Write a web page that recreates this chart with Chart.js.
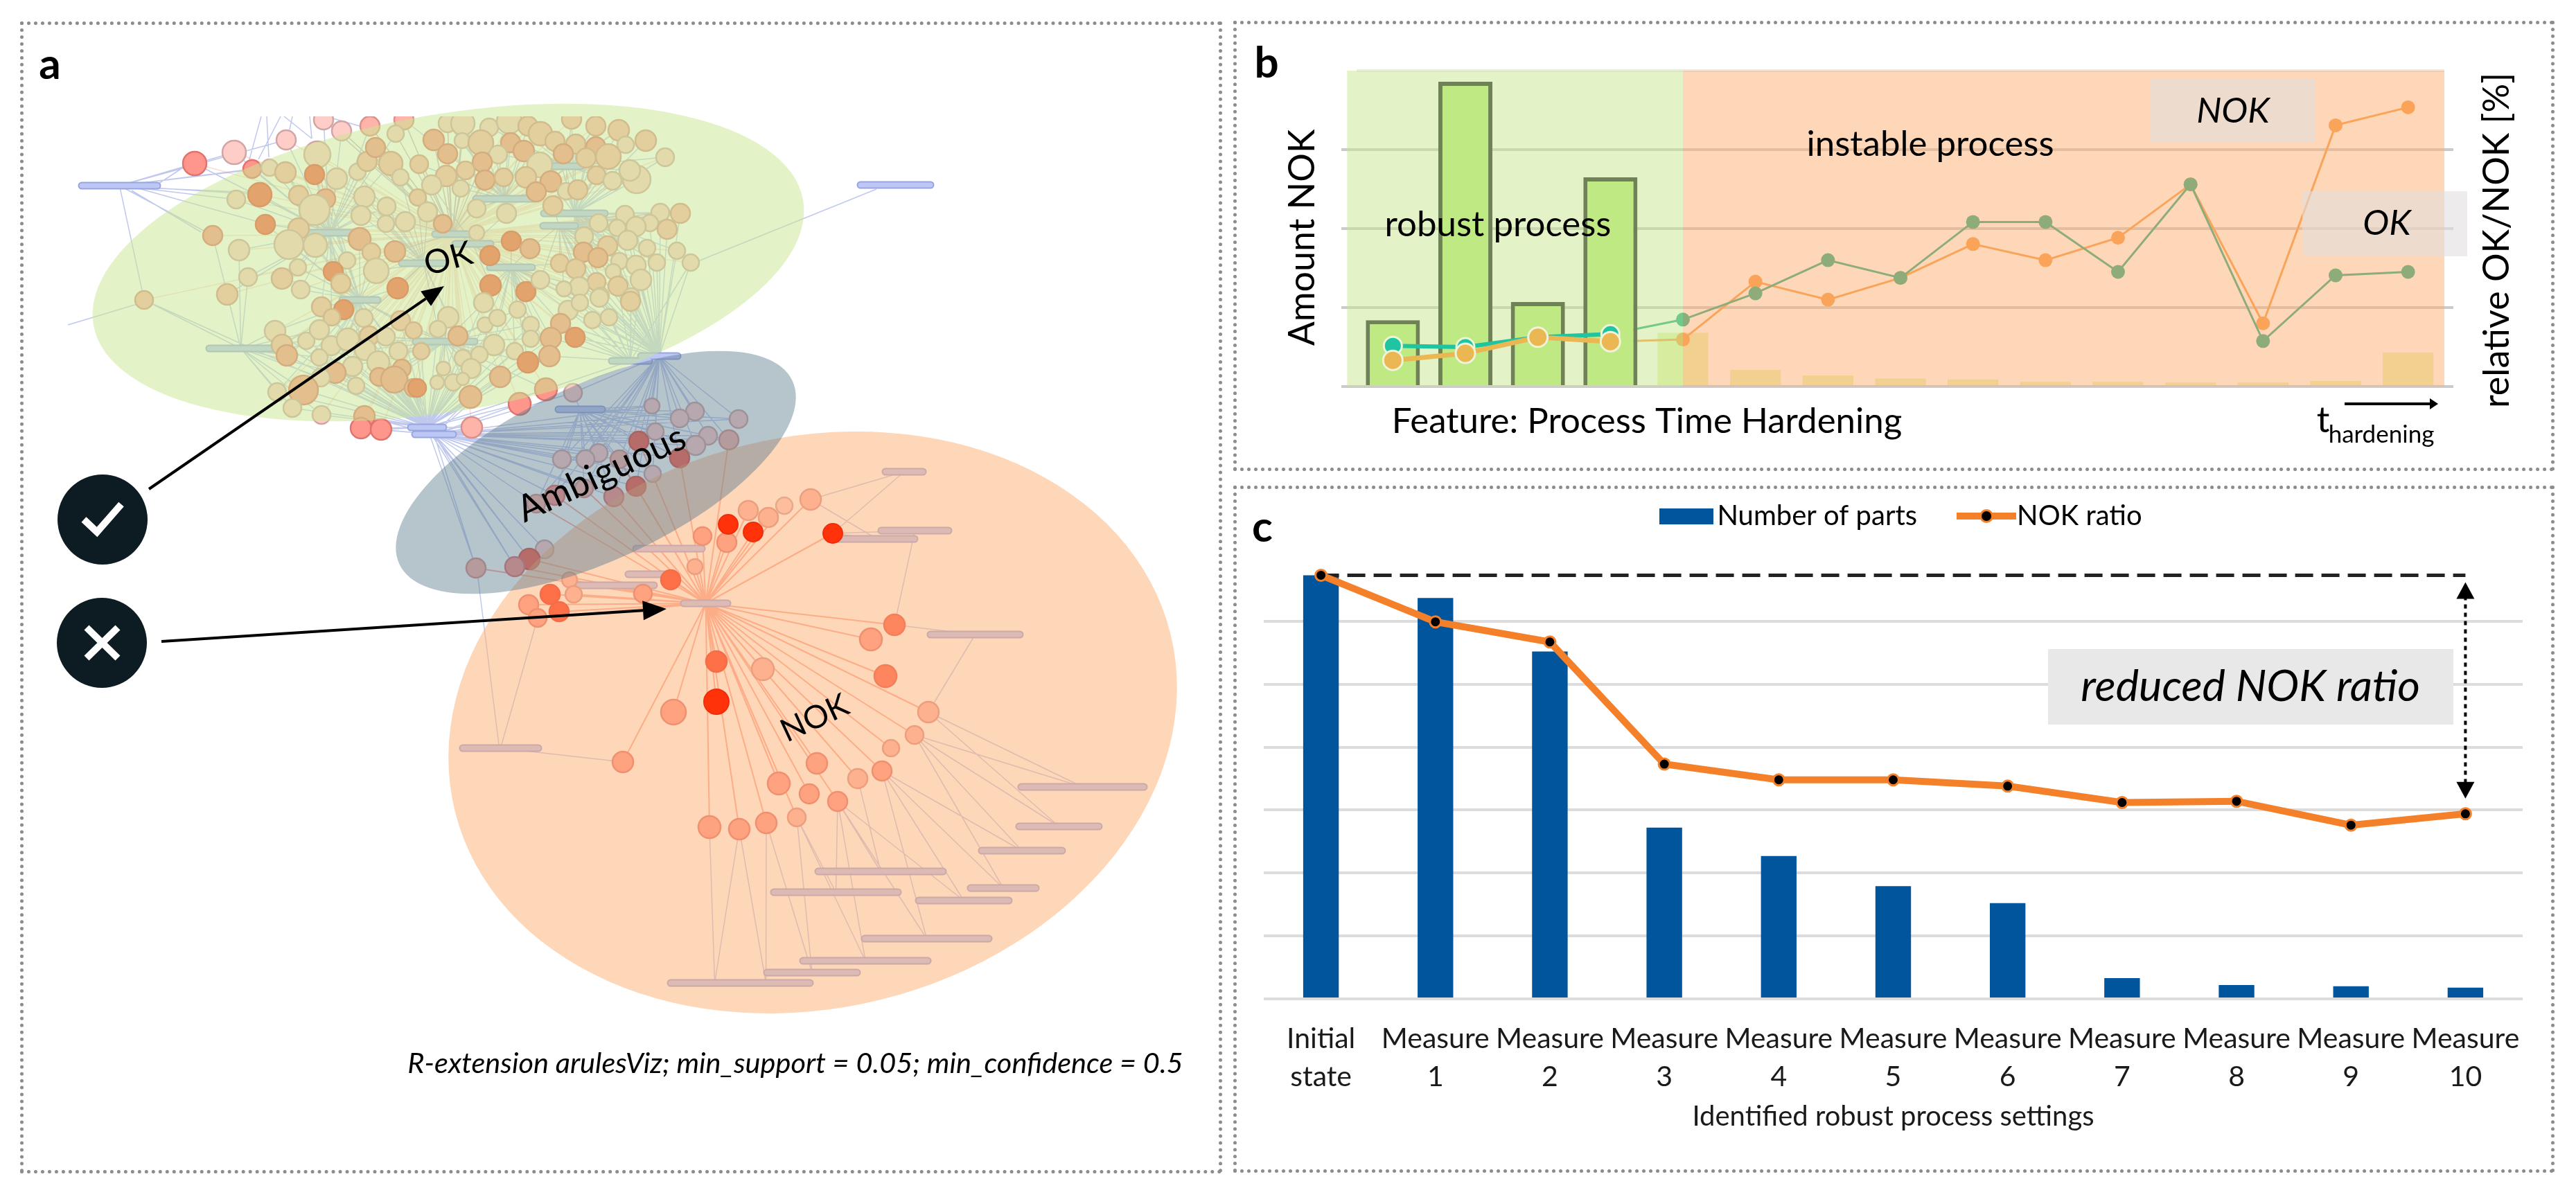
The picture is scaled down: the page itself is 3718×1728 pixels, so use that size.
<!DOCTYPE html>
<html>
<head>
<meta charset="utf-8">
<title>Process analysis</title>
<script src="https://cdn.jsdelivr.net/npm/chart.js@4/dist/chart.umd.min.js"></script>
<style>
  body { margin: 0; background: #fff; width: 3718px; height: 1728px; overflow: hidden; position: relative; font-family: Lato, sans-serif; }
  canvas { position: absolute; }
  .panel { position: absolute; box-sizing: border-box; border: 5px dotted #8c8c8c; }
  .letter { position: absolute; font: bold 62px Lato, sans-serif; line-height: 1; color: #000; transform: translate(-50%, -50%); }
</style>
</head>
<body>
<div class="panel" style="left:29px;top:31px;width:1735px;height:1663px"></div>
<div class="panel" style="left:1780px;top:30px;width:1907px;height:650px"></div>
<div class="panel" style="left:1780px;top:701px;width:1907px;height:992px"></div>
<div class="letter" style="left:72px;top:90px">a</div>
<div class="letter" style="left:1828px;top:88px">b</div>
<div class="letter" style="left:1822px;top:758px">c</div>
<canvas id="chartA" style="left:40px;top:40px" width="1715" height="1645"></canvas>
<canvas id="chartB" style="left:1790px;top:40px" width="1890" height="630"></canvas>
<canvas id="chartC" style="left:1800px;top:649px" width="1902" height="1036"></canvas>
<script>
// panel a: rule graph, [x, y, size, lift] (layout units)
const okNodes = [
  [338,220,17,0],[281,236,17,2],[413,202,14,0],[467,173,14,0],[493,189,14,0],[534,182,14,1],[583,173,14,1],[364,244,13,2],
  [389,242,12,0],[412,249,15,1],[458,223,19,0],[454,252,14,3],[486,258,15,0],[516,248,12,0],[530,233,14,1],[542,213,14,2],
  [564,236,17,1],[578,256,12,0],[571,193,12,0],[341,288,13,0],[375,281,17,3],[431,282,14,1],[470,287,14,2],[526,284,15,0],
  [558,298,13,0],[521,311,14,0],[557,323,12,0],[585,320,14,0],[383,324,14,3],[307,340,14,2],[454,303,22,0],[431,330,15,1],
  [417,353,21,0],[455,354,17,0],[519,345,16,2],[345,361,15,0],[536,364,13,1],[570,363,15,2],[501,376,12,0],[430,386,12,0],
  [481,392,14,3],[543,391,18,0],[358,400,13,0],[407,402,15,1],[492,409,14,1],[434,418,13,0],[574,416,15,3],[328,425,15,1],
  [208,433,13,1],
  [646,178,13,0],[668,178,17,0],[706,184,13,0],[735,175,18,0],[762,182,14,1],[780,193,17,1],[825,172,14,1],[860,182,14,1],
  [893,188,15,1],[932,203,15,1],[960,227,13,0],[626,202,15,2],[667,203,11,0],[694,206,18,1],[737,206,14,2],[756,218,15,2],
  [801,204,14,1],[831,208,14,1],[860,212,14,2],[903,209,12,0],[878,226,18,1],[846,228,14,1],[813,222,14,2],[646,222,14,2],
  [719,223,13,0],[696,234,14,2],[779,238,18,0],[605,237,13,1],[644,254,15,1],[672,246,13,1],[700,260,14,2],[727,256,13,1],
  [759,256,15,1],[795,262,15,2],[774,277,14,2],[817,276,12,0],[834,274,14,1],[861,253,13,1],[919,259,20,0],[909,246,15,0],
  [884,261,13,0],[623,267,14,0],[665,272,12,0],[603,285,12,1],[617,306,14,0],[688,301,13,0],[731,308,14,0],[798,297,14,1],
  [639,323,13,2],[688,336,11,0],[738,348,14,3],[765,359,14,2],[707,369,14,3],[708,412,15,3],[759,421,14,3],[780,404,13,0],
  [902,310,13,0],[953,307,13,0],[982,308,14,1],[938,322,12,0],[963,331,14,1],[918,327,14,0],[891,329,12,0],[864,322,13,0],
  [843,341,13,0],[906,347,14,0],[877,355,14,1],[934,358,12,0],[977,362,12,0],[842,364,14,2],[863,372,14,2],[894,377,12,0],
  [918,383,14,0],[948,379,12,0],[997,379,12,0],[808,380,13,1],[831,388,14,1],[885,392,11,0],[925,404,15,0],[861,407,13,1],
  [892,413,14,1],[836,414,14,0],[814,417,11,0],[867,427,12,0],[911,428,12,0],
  [464,443,14,1],[496,447,14,3],[525,459,13,0],[479,458,12,1],[397,478,15,0],[442,492,12,0],[461,476,14,0],[407,498,15,1],
  [414,513,15,2],[478,499,14,0],[502,490,16,0],[533,485,14,1],[557,486,13,0],[578,463,14,1],[597,477,12,1],[461,516,12,0],
  [527,505,15,0],[575,507,13,0],[509,529,14,0],[546,523,16,0],[484,538,15,2],[463,545,13,0],[438,563,21,2],[400,566,13,0],
  [514,557,12,0],[580,532,13,2],[547,544,13,2],[569,548,19,2],[597,560,13,2],[422,589,13,0],[464,599,13,0],[526,601,15,2],
  [521,618,15,2],[550,620,15,2],
  [698,437,14,0],[747,447,12,0],[820,448,14,0],[837,437,12,0],[865,430,13,0],[910,435,14,1],[855,462,12,0],[879,458,12,0],
  [647,458,15,0],[700,469,11,0],[718,459,12,0],[766,469,12,0],[809,467,14,2],[632,475,12,0],[661,485,14,2],[766,489,12,0],
  [795,488,15,2],[830,487,14,3],[713,498,15,0],[608,507,12,1],[743,507,12,0],[692,512,12,0],[668,517,12,0],[680,532,14,0],
  [762,523,15,3],[793,514,15,2],[640,532,10,0],[631,552,10,0],[654,552,12,0],[668,547,9,0],[722,544,15,2],[602,560,13,3],
  [679,573,16,2],[788,562,16,2],[750,583,16,2],[681,617,15,1]
];
const ambNodes = [
  [827,567,13,0],[941,586,11,0],[1003,594,13,0],[981,604,13,0],[1066,605,13,0],[946,623,12,0],[922,637,14,3],[1022,629,13,0],
  [1004,643,14,0],[1052,635,14,1],[981,661,14,3],[942,684,12,0],[918,702,14,3],[886,717,14,2],[864,654,13,0],[845,663,13,0],
  [811,663,13,0],[894,663,13,1],[843,705,13,1],[801,715,14,2],[774,727,13,1],[786,793,13,0],[764,807,15,3],[743,818,14,2],
  [687,820,14,1]
];
const nokNodes = [
  [1170,721,15,1],[1132,730,12,0],[1080,737,14,1],[1109,747,14,1],[1014,774,13,2],[1049,783,14,2],[1003,818,11,1],[968,837,14,4],
  [822,837,11,1],[928,857,13,2],[794,858,14,4],[828,858,12,1],[763,873,14,2],[807,883,14,4],[776,892,13,2],[1034,955,15,4],
  [1101,966,16,1],[1291,902,15,3],[1257,923,16,2],[1278,976,16,3],[1340,1028,15,1],[1320,1061,13,1],[1286,1080,12,1],
  [1273,1113,14,2],[1238,1124,14,1],[1179,1102,15,2],[1124,1131,16,2],[1168,1146,14,2],[1209,1157,14,2],[1150,1180,13,1],
  [1106,1188,15,2],[1067,1197,15,2],[1024,1194,16,2],[899,1100,15,2],[972,1028,18,2]
];
const hotNodes = [[1051,757,14,5],[1087,768,14,5],[1202,770,14,5],[1034,1013,18,5]];

// rule boxes: [from, to, y]
const okHubs = [
  [118,227,268],[447,505,336],[798,838,240],[687,770,287],[785,873,308],[784,830,326],[628,677,338],[657,708,352],
  [707,768,386],[580,643,380],[494,545,433],[600,685,493],[302,393,503],[883,937,521],[925,978,514],[593,640,617],[599,654,627]
];
const ambHubs = [[806,869,591],[1242,1343,267]];
const nokHubs = [
  [668,777,1080],[1474,1651,1136],[1471,1586,1193],[1417,1533,1228],[1181,1361,1258],[1401,1495,1282],[1117,1296,1288],
  [1326,1456,1300],[1248,1427,1355],[1159,1339,1387],[1107,1237,1404],[968,1095,1419],[1042,1169,1419],[1278,1332,681],
  [1272,1369,766],[1211,1320,778],[1343,1472,916],[987,1050,871],[918,1013,792],[907,959,829],[835,944,845]
];
// loose lines that do not end on a node of the lists above
const looseEdges = [
  [377,168,360,230],[385,168,388,227],[405,168,373,230],[410,168,450,200],[422,168,418,187],[447,168,450,200],[470,168,530,185],
  [229,265,267,240],[229,272,370,278],[200,272,372,320],[190,275,290,335],[1265,273,1005,378],[98,469,208,436],[720,1075,690,835]
];

// panel b
const hardeningSteps = ['1','2','3','4','5','6','7','8','9','10','11','12','13','14','15'];
const amountNok = [0.84,3.86,1.07,2.65,0.68,0.21,0.14,0.10,0.09,0.06,0.06,0.05,0.05,0.07,0.43];
const okShare = [12.9,12.5,15.6,16.6,21.2,29.5,40.0,34.4,52.1,52.1,36.3,64.0,14.4,35.2,36.3];
const nokShare = [8.3,10.5,15.6,14.2,14.9,33.2,27.5,34.4,45.1,40.0,47.1,64.0,20.0,82.7,88.4];
const robustCount = 4;

// panel c
const measures = [['Initial','state'],['Measure','1'],['Measure','2'],['Measure','3'],['Measure','4'],['Measure','5'],
  ['Measure','6'],['Measure','7'],['Measure','8'],['Measure','9'],['Measure','10']];
const numberOfParts = [6.73,6.37,5.52,2.72,2.27,1.79,1.52,0.33,0.22,0.20,0.18];
const nokRatio = [6.73,5.99,5.67,3.73,3.48,3.48,3.38,3.12,3.14,2.76,2.94];

const LIFT_FILL = ['rgb(255,205,200)','rgb(255,180,170)','rgb(255,150,140)','rgb(255,95,75)','rgb(255,50,30)','rgb(255,50,10)'];
const LIFT_EDGE = ['rgb(210,165,165)','rgb(218,145,140)','rgb(225,115,110)','rgb(230,80,65)','rgb(235,45,30)','rgb(240,45,10)'];

Chart.defaults.font.family = 'Lato, sans-serif';
Chart.defaults.color = '#000';
Chart.defaults.animation = false;

function toBubbles(list) {
  return list.map(n => ({ x: n[0], y: n[1], r: n[2], lift: n[3] }));
}

// every pair [x1,y1,x2,y2] becomes a separate stroke, the null point breaks the line
function toSegments(pairs) {
  const out = [];
  pairs.forEach(p => {
    out.push({ x: p[0], y: p[1] }, { x: p[2], y: p[3] }, { x: null, y: null });
  });
  return out;
}

function hubCenter(h) { return [(h[0] + h[1]) / 2, h[2]]; }

function nearestHubs(node, hubs, k) {
  return hubs.map(h => {
    const c = hubCenter(h);
    return { c: c, d: Math.hypot(c[0] - node[0], c[1] - node[1]) };
  }).sort((a, b) => a.d - b.d).slice(0, k).map(e => e.c);
}

// who is wired to whom could not be read node by node, so edges go to the closest boxes
const okCenter = hubCenter(okHubs[6]);
const nokCenter = hubCenter(nokHubs[17]);
const bottomHub = hubCenter(okHubs[15]);
const rightHub = hubCenter(okHubs[14]);
const itemEdges = looseEdges.slice();
const okRuleEdges = [];
const nokRuleEdges = [];
okNodes.forEach(n => {
  okRuleEdges.push([okCenter[0], okCenter[1], n[0], n[1]]);
  nearestHubs(n, okHubs, 2).forEach(c => itemEdges.push([c[0], c[1], n[0], n[1]]));
  if (n[1] > 430 && n[0] < 800) itemEdges.push([bottomHub[0], bottomHub[1], n[0], n[1]]);
  if (n[1] > 300 && n[0] >= 800) itemEdges.push([rightHub[0], rightHub[1], n[0], n[1]]);
});
ambNodes.forEach(n => {
  const c1 = n[1] > 760 ? bottomHub : rightHub;
  const c2 = n[1] > 760 ? hubCenter(okHubs[16]) : hubCenter(ambHubs[0]);
  itemEdges.push([c1[0], c1[1], n[0], n[1]], [c2[0], c2[1], n[0], n[1]]);
  itemEdges.push([hubCenter(okHubs[16])[0], hubCenter(okHubs[16])[1], n[0], n[1]]);
  if (n[3] > 0) nokRuleEdges.push([nokCenter[0], nokCenter[1], n[0], n[1]]);
});
const lowerNodes = nokNodes.concat(hotNodes);
lowerNodes.forEach(n => {
  nokRuleEdges.push([nokCenter[0], nokCenter[1], n[0], n[1]]);
});
nokHubs.slice(0, 17).forEach(h => {
  const c = hubCenter(h);
  lowerNodes.map(n => ({ n: n, d: Math.hypot(n[0] - c[0], n[1] - c[1]) }))
    .sort((a, b) => a.d - b.d).slice(0, 2)
    .forEach(e => itemEdges.push([c[0], c[1], e.n[0], e.n[1]]));
});
const allHubs = okHubs.concat(ambHubs, nokHubs);
const hubStrokes = toSegments(allHubs.map(h => [h[0], h[2], h[1], h[2]]));

function arrow(ctx, x1, y1, x2, y2, width, len, half) {
  const a = Math.atan2(y2 - y1, x2 - x1);
  const bx = x2 - len * Math.cos(a), by = y2 - len * Math.sin(a);
  ctx.save();
  ctx.strokeStyle = '#000';
  ctx.fillStyle = '#000';
  ctx.lineWidth = width;
  ctx.beginPath();
  ctx.moveTo(x1, y1);
  ctx.lineTo(bx, by);
  ctx.stroke();
  ctx.beginPath();
  ctx.moveTo(x2, y2);
  ctx.lineTo(bx - half * Math.sin(a), by + half * Math.cos(a));
  ctx.lineTo(bx + half * Math.sin(a), by - half * Math.cos(a));
  ctx.closePath();
  ctx.fill();
  ctx.restore();
}

function putText(ctx, text, x, y, font, rotation) {
  ctx.save();
  ctx.font = font;
  ctx.fillStyle = '#000';
  ctx.textAlign = 'center';
  ctx.textBaseline = 'middle';
  ctx.translate(x, y);
  if (rotation) ctx.rotate(rotation * Math.PI / 180);
  ctx.fillText(text, 0, 0);
  ctx.restore();
}

const NODE_LAYER = 5;

const graphOverlay = {
  id: 'graphOverlay',
  afterDatasetDraw(chart, args) {
    if (args.index !== NODE_LAYER) return;
    const ctx = chart.ctx, sx = chart.scales.x, sy = chart.scales.y;
    const blobs = [
      [647, 379, 520, 214, -10, 'rgba(199,231,143,0.5)'],
      [1173, 1043, 532, 412, -14, 'rgba(253,173,113,0.5)'],
      [860, 682, 313, 127, -25, 'rgba(93,124,142,0.45)']
    ];
    blobs.forEach(b => {
      ctx.save();
      ctx.fillStyle = b[5];
      ctx.beginPath();
      ctx.ellipse(sx.getPixelForValue(b[0]), sy.getPixelForValue(b[1]), b[2], b[3], b[4] * Math.PI / 180, 0, Math.PI * 2);
      ctx.fill();
      ctx.restore();
    });
  },
  afterDatasetsDraw(chart) {
    const ctx = chart.ctx, sx = chart.scales.x, sy = chart.scales.y;
    const px = v => sx.getPixelForValue(v), py = v => sy.getPixelForValue(v);
    arrow(ctx, px(215), py(706), px(641), py(413), 4, 32, 13);
    arrow(ctx, px(233), py(926), px(962), py(879), 4, 34, 14);
    ctx.save();
    ctx.strokeStyle = '#fff';
    ctx.lineWidth = 10;
    ctx.beginPath();
    ctx.moveTo(px(121), py(750));
    ctx.lineTo(px(140), py(768));
    ctx.lineTo(px(175), py(728));
    ctx.moveTo(px(125), py(906));
    ctx.lineTo(px(170), py(950));
    ctx.moveTo(px(170), py(906));
    ctx.lineTo(px(125), py(950));
    ctx.stroke();
    ctx.restore();
    putText(ctx, 'OK', px(647), py(374), '48px Lato', -15);
    putText(ctx, 'Ambiguous', px(868), py(684), '53px Lato', -25);
    putText(ctx, 'NOK', px(1176), py(1037), '46px Lato', -25);
    putText(ctx, 'R-extension arulesViz; min_support = 0.05; min_confidence = 0.5', px(1148), py(1536), 'italic 41.5px Lato');
  }
};

function edgeLayer(data, color, width, order) {
  return {
    type: 'scatter', data: data, showLine: true, pointRadius: 0, borderColor: color,
    borderWidth: width, order: order, clip: 0
  };
}

new Chart(document.getElementById('chartA'), {
  type: 'bubble',
  data: {
    datasets: [
      edgeLayer(toSegments(itemEdges), 'rgba(150,165,225,0.6)', 1.5, 17),
      edgeLayer(toSegments(okRuleEdges), 'rgba(245,120,85,0.25)', 1.5, 16),
      edgeLayer(toSegments(nokRuleEdges), 'rgba(250,90,60,0.5)', 2, 15),
      Object.assign(edgeLayer(hubStrokes, '#98a5de', 11, 14), { borderCapStyle: 'round' }),
      Object.assign(edgeLayer(hubStrokes, '#bcc7f5', 7, 13), { borderCapStyle: 'round' }),
      {
        data: toBubbles(okNodes.concat(ambNodes, nokNodes)),
        backgroundColor: c => LIFT_FILL[c.raw.lift],
        borderColor: c => LIFT_EDGE[c.raw.lift],
        borderWidth: 2.5, order: 10, clip: 0
      },
      {
        data: toBubbles(hotNodes),
        backgroundColor: c => LIFT_FILL[c.raw.lift],
        borderColor: c => LIFT_EDGE[c.raw.lift],
        borderWidth: 2, order: 2, clip: 0
      },
      {
        data: [{ x: 148, y: 750, r: 65 }, { x: 147, y: 928, r: 65 }],
        backgroundColor: '#0d1c22', borderWidth: 0, order: 1, clip: false
      }
    ]
  },
  options: {
    responsive: false,
    devicePixelRatio: 1,
    events: [],
    layout: { autoPadding: false, padding: { top: 128 } },
    plugins: { legend: { display: false }, tooltip: { enabled: false } },
    scales: {
      x: { type: 'linear', display: false, min: 40, max: 1755 },
      y: { type: 'linear', display: false, min: 168, max: 1685, reverse: true }
    }
  },
  plugins: [graphOverlay]
});

// panel b
const B_X = 1790, B_Y = 40, BAND_LAYER = 3;
const bandOverlay = {
  id: 'bandOverlay',
  afterDatasetDraw(chart, args) {
    if (args.index !== BAND_LAYER) return;
    const ctx = chart.ctx, a = chart.chartArea;
    const split = chart.scales.x.getPixelForValue(robustCount);
    const start = chart.scales.x.getPixelForValue(0) - 66;
    ctx.save();
    ctx.fillStyle = 'rgba(199,231,143,0.5)';
    ctx.fillRect(start, a.top, split - start, a.bottom - a.top);
    ctx.fillStyle = 'rgba(253,173,113,0.5)';
    ctx.fillRect(split, a.top, a.right - split, a.bottom - a.top);
    ctx.restore();
  },
  afterDatasetsDraw(chart) {
    const ctx = chart.ctx;
    ctx.save();
    ctx.fillStyle = 'rgba(225,222,222,0.6)';
    ctx.fillRect(3103 - B_X, 114 - B_Y, 238, 92);
    ctx.fillRect(3323 - B_X, 276 - B_Y, 238, 94);
    ctx.restore();
    putText(ctx, 'Amount NOK', 1880 - B_X, 343 - B_Y, '52px Lato', -90);
    putText(ctx, 'relative OK/NOK [%]', 3604 - B_X, 347 - B_Y, '52px Lato', -90);
    putText(ctx, 'robust process', 2162 - B_X, 325 - B_Y, '51px Lato');
    putText(ctx, 'instable process', 2786 - B_X, 209 - B_Y, '51px Lato');
    putText(ctx, 'NOK', 3223 - B_X, 161 - B_Y, 'italic 51px Lato');
    putText(ctx, 'OK', 3445 - B_X, 323 - B_Y, 'italic 51px Lato');
    putText(ctx, 'Feature: Process Time Hardening', 2377 - B_X, 609 - B_Y, '51px Lato');
    putText(ctx, 't', 3353 - B_X, 607 - B_Y, '52px Lato');
    putText(ctx, 'hardening', 3437 - B_X, 628 - B_Y, '35px Lato');
    arrow(ctx, 3384 - B_X, 583 - B_Y, 3519 - B_X, 583 - B_Y, 4, 12, 8);
  }
};

const isRobust = i => i < robustCount;
const gridGray = 'rgba(185,185,185,0.75)';
new Chart(document.getElementById('chartB'), {
  type: 'bar',
  data: {
    labels: hardeningSteps,
    datasets: [
      {
        data: amountNok.map((v, i) => isRobust(i) ? null : v),
        backgroundColor: 'rgb(228,242,175)', barPercentage: 0.7, categoryPercentage: 1,
        grouped: false, order: 14
      },
      {
        type: 'line', data: nokShare.map((v, i) => i >= robustCount - 1 ? v : null), yAxisID: 'y1',
        borderColor: '#f59a40', backgroundColor: '#f59a40', borderWidth: 3, pointRadius: 10, pointBorderWidth: 0, order: 13
      },
      {
        type: 'line', data: okShare.map((v, i) => i >= robustCount - 1 ? v : null), yAxisID: 'y1',
        borderColor: 'rgb(31,170,130)', backgroundColor: 'rgb(31,170,130)', borderWidth: 3, pointRadius: 10, pointBorderWidth: 0, order: 12
      },
      { type: 'line', data: [], order: 11, yAxisID: 'y1' },
      {
        data: amountNok.map((v, i) => isRobust(i) ? v : null),
        backgroundColor: '#bfe983', borderColor: '#6f8257', borderWidth: 6,
        barPercentage: 0.746, categoryPercentage: 1, grouped: false, order: 5
      },
      {
        type: 'line', data: okShare.map((v, i) => isRobust(i) ? v : null), yAxisID: 'y1',
        borderColor: '#1fc5a0', backgroundColor: '#1fc5a0', borderWidth: 6,
        pointRadius: 13, pointBorderWidth: 3, pointBorderColor: '#eef4d8', order: 4
      },
      {
        type: 'line', data: nokShare.map((v, i) => isRobust(i) ? v : null), yAxisID: 'y1',
        borderColor: '#eab752', backgroundColor: '#eab752', borderWidth: 7,
        pointRadius: 14, pointBorderWidth: 3, pointBorderColor: '#eef4d8', order: 3
      }
    ]
  },
  options: {
    responsive: false,
    devicePixelRatio: 1,
    events: [],
    layout: { autoPadding: false, padding: { top: 62, bottom: 112 } },
    plugins: { legend: { display: false }, tooltip: { enabled: false } },
    scales: {
      x: { display: false, offset: true },
      y: {
        min: 0, max: 4,
        ticks: { display: false, stepSize: 1 },
        border: { display: false },
        grid: {
          color: c => c.tick.value === 4 ? 'rgba(185,185,185,0.3)' : gridGray,
          tickColor: c => c.tick.value === 4 ? 'transparent' : gridGray,
          lineWidth: 4, tickLength: 22
        },
        afterFit(s) { s.width = 168; }
      },
      y1: {
        position: 'right', min: 0, max: 100,
        ticks: { display: false, stepSize: 25 },
        border: { display: false },
        grid: {
          drawOnChartArea: false,
          color: c => c.tick.value === 100 ? 'transparent' : gridGray,
          lineWidth: 4, tickLength: 13
        },
        afterFit(s) { s.width = 152; }
      }
    }
  },
  plugins: [bandOverlay]
});

// panel c
const C_X = 1800, C_Y = 649;
function legendBox(width, height, paint) {
  const c = document.createElement('canvas');
  c.width = width;
  c.height = height;
  paint(c.getContext('2d'));
  return c;
}
const barKey = legendBox(78, 23, g => { g.fillStyle = '#01559c'; g.fillRect(0, 0, 78, 23); });
const lineKey = legendBox(86, 24, g => {
  g.fillStyle = '#f5802a';
  g.fillRect(0, 7, 86, 10);
  g.beginPath();
  g.arc(43, 12, 10, 0, Math.PI * 2);
  g.fill();
  g.fillStyle = '#000';
  g.beginPath();
  g.arc(43, 12, 7, 0, Math.PI * 2);
  g.fill();
});

const reductionOverlay = {
  id: 'reductionOverlay',
  afterDatasetsDraw(chart) {
    const ctx = chart.ctx, sy = chart.scales.y;
    const x = chart.scales.x.getPixelForValue(measures.length - 1);
    const top = sy.getPixelForValue(nokRatio[0]) + 10;
    const bottom = sy.getPixelForValue(nokRatio[nokRatio.length - 1]) - 22;
    ctx.save();
    ctx.setLineDash([6, 6]);
    ctx.lineWidth = 4;
    ctx.strokeStyle = '#000';
    ctx.beginPath();
    ctx.moveTo(x, top + 20);
    ctx.lineTo(x, bottom - 20);
    ctx.stroke();
    ctx.restore();
    arrow(ctx, x, top + 24, x, top, 1, 24, 13);
    arrow(ctx, x, bottom - 24, x, bottom, 1, 24, 13);
    ctx.save();
    ctx.fillStyle = '#e8e8e8';
    ctx.fillRect(2956 - C_X, 937 - C_Y, 585, 109);
    ctx.restore();
    putText(ctx, 'reduced NOK ratio', 3248 - C_X, 992 - C_Y, 'italic 63px Lato');
  }
};

new Chart(document.getElementById('chartC'), {
  type: 'bar',
  data: {
    labels: measures,
    datasets: [
      {
        label: 'Number of parts', data: numberOfParts, backgroundColor: '#01559c',
        barPercentage: 0.311, categoryPercentage: 1, order: 3
      },
      {
        label: 'NOK ratio', type: 'line', data: nokRatio, borderColor: '#f5802a', borderWidth: 10,
        pointRadius: 8, pointBackgroundColor: '#000', pointBorderColor: '#f5802a', pointBorderWidth: 3, order: 1
      },
      {
        label: 'initial level', type: 'line', data: nokRatio.map(() => nokRatio[0]), borderColor: '#222',
        borderWidth: 5, borderDash: [26, 12], pointRadius: 0, order: 2
      }
    ]
  },
  options: {
    responsive: false,
    devicePixelRatio: 1,
    events: [],
    layout: { autoPadding: false },
    plugins: {
      tooltip: { enabled: false },
      legend: {
        labels: {
          usePointStyle: true, pointStyleWidth: 48, padding: 76, font: { size: 40 },
          generateLabels: () => [
            { text: 'Number of parts', pointStyle: barKey, lineWidth: 0, datasetIndex: 0 },
            { text: 'NOK ratio', pointStyle: lineKey, lineWidth: 0, datasetIndex: 1 }
          ]
        }
      }
    },
    scales: {
      x: {
        grid: { display: false },
        border: { display: false },
        ticks: { font: { size: 41, lineHeight: 1.34 }, color: '#1a1a1a', padding: 22, autoSkip: false, maxRotation: 0 },
        title: { display: true, text: 'Identified robust process settings', font: { size: 40 }, color: '#1a1a1a', padding: { top: 0, bottom: 49 } },
        afterFit(s) { s.height = 243; }
      },
      y: {
        // the area runs up past the last grid line to make room for the legend spacing
        min: 0, max: 7.34,
        ticks: { display: false, stepSize: 1 },
        border: { display: false },
        grid: { color: c => c.tick.value >= 7 ? 'transparent' : '#dcdcdc', lineWidth: 4, drawTicks: false },
        afterFit(s) { s.width = 24; }
      },
      // empty side axis: keeps the plot narrower than the legend's row
      side: {
        position: 'right', min: 0, max: 1,
        ticks: { display: false },
        border: { display: false },
        grid: { display: false },
        afterFit(s) { s.width = 61; }
      }
    }
  },
  plugins: [reductionOverlay]
});
</script>
</body>
</html>
